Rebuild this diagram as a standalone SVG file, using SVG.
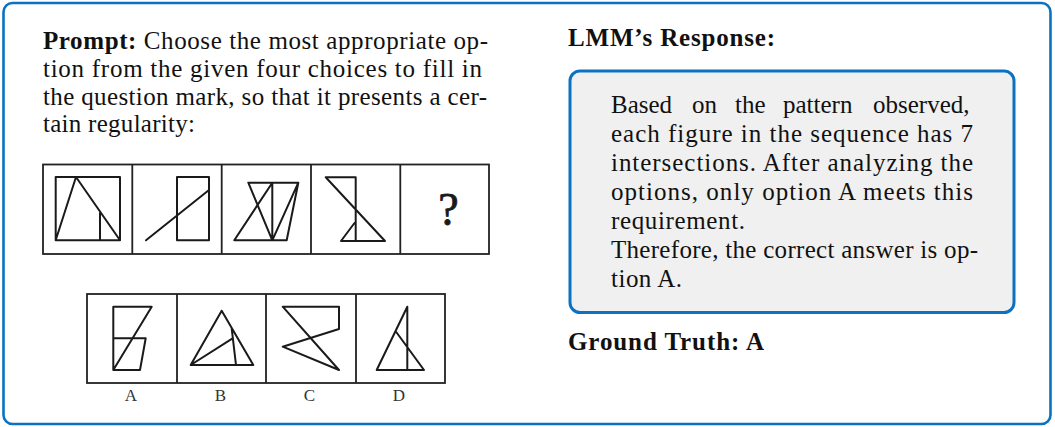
<svg xmlns="http://www.w3.org/2000/svg" width="1055" height="427" viewBox="0 0 1055 427">
<style>
.t{font-family:"Liberation Serif","Times New Roman",serif;font-size:25px;fill:#111}
.b{font-weight:bold}
.lbl{font-family:"Liberation Serif","Times New Roman",serif;font-size:17px;fill:#333;text-anchor:middle}
.cell{fill:none;stroke:#222;stroke-width:1.8}
.fig{fill:none;stroke:#1a1a1a;stroke-width:2;stroke-linejoin:round;stroke-linecap:round}
</style>
<g id="frame">
<rect x="3.5" y="3" width="1047" height="421" rx="9" fill="#fff" stroke="#0B72C1" stroke-width="2.6"/>
</g>
<g id="prompt">
<text class="t" x="43" y="49" textLength="445" lengthAdjust="spacing"><tspan class="b">Prompt:</tspan> Choose the most appropriate op-</text>
<text class="t" x="43" y="77" textLength="439" lengthAdjust="spacing">tion from the given four choices to fill in</text>
<text class="t" x="43" y="104.7" textLength="444" lengthAdjust="spacing">the question mark, so that it presents a cer-</text>
<text class="t" x="43" y="132.4" textLength="152" lengthAdjust="spacing">tain regularity:</text>
</g>
<g id="puzzle">
<rect class="cell" x="43" y="164.5" width="446" height="89.5"/>
<path class="cell" d="M132.3,164.5V254M221.7,164.5V254M311,164.5V254M400.3,164.5V254"/>
<path class="fig" d="M55.7,177H120V240.3H55.7ZM76,177L55.7,240.3M76,177L120,240.3M100,213V240.3"/>
<path class="fig" d="M177,177H209V240.3H177ZM146,240.3L209,190"/>
<path class="fig" d="M248.3,182.7H298.3M234.3,240.3H286.7M272.3,182.7V240.3M248.3,182.7L272.3,240.3M272.3,182.7L234.3,240.3M272.3,240.3L298.3,182.7L286.7,240.3"/>
<path class="fig" d="M325.7,177.3H355.7V241M325.7,177.3L385,241H341L354.5,223"/>
<text x="448.5" y="225" font-family="Liberation Serif,serif" font-size="46" text-anchor="middle" fill="#1a1a1a" stroke="#1a1a1a" stroke-width="0.8">?</text>
</g>
<g id="options">
<rect class="cell" x="87" y="294" width="358" height="89"/>
<path class="cell" d="M177,294V383M266,294V383M356,294V383"/>
<path class="fig" d="M113.3,306.7H151.7L113.3,370M113.3,306.7V370H140L145.7,338.3H113.3"/>
<path class="fig" d="M221.7,310.7L190.7,365H253.3ZM231.6,327.7L236,365M190.7,365L232.6,338.3"/>
<path class="fig" d="M282.7,306.7H339V329L282.7,346.7L339,370L282.7,306.7"/>
<path class="fig" d="M407.3,306.7V370M407.3,306.7L376.7,370H424L395.5,331"/>
<text class="lbl" x="131" y="401">A</text>
<text class="lbl" x="220.5" y="401">B</text>
<text class="lbl" x="309.5" y="401">C</text>
<text class="lbl" x="399" y="401">D</text>
</g>
<g id="response-title">
<text class="t b" x="568" y="46" textLength="207" lengthAdjust="spacing">LMM’s Response:</text>
</g>
<g id="response">
<rect x="570" y="71" width="444" height="241.5" rx="10" fill="#f0f0f0" stroke="#0B72C1" stroke-width="3"/>
<text class="t" y="113.3"><tspan x="611">Based</tspan><tspan x="692">on</tspan><tspan x="735">the</tspan><tspan x="783">pattern</tspan><tspan x="873">observed,</tspan></text>
<text class="t" x="611" y="142.3" textLength="362" lengthAdjust="spacing">each figure in the sequence has 7</text>
<text class="t" x="611" y="171.3" textLength="362" lengthAdjust="spacing">intersections. After analyzing the</text>
<text class="t" x="611" y="200.3" textLength="362" lengthAdjust="spacing">options, only option A meets this</text>
<text class="t" x="611" y="229.3" textLength="134" lengthAdjust="spacing">requirement.</text>
<text class="t" x="611" y="258.3" textLength="367" lengthAdjust="spacing">Therefore, the correct answer is op-</text>
<text class="t" x="611" y="287.3" textLength="71" lengthAdjust="spacing">tion A.</text>
</g>
<g id="ground-truth">
<text class="t b" x="568" y="350" textLength="196" lengthAdjust="spacing">Ground Truth: A</text>
</g>
</svg>
